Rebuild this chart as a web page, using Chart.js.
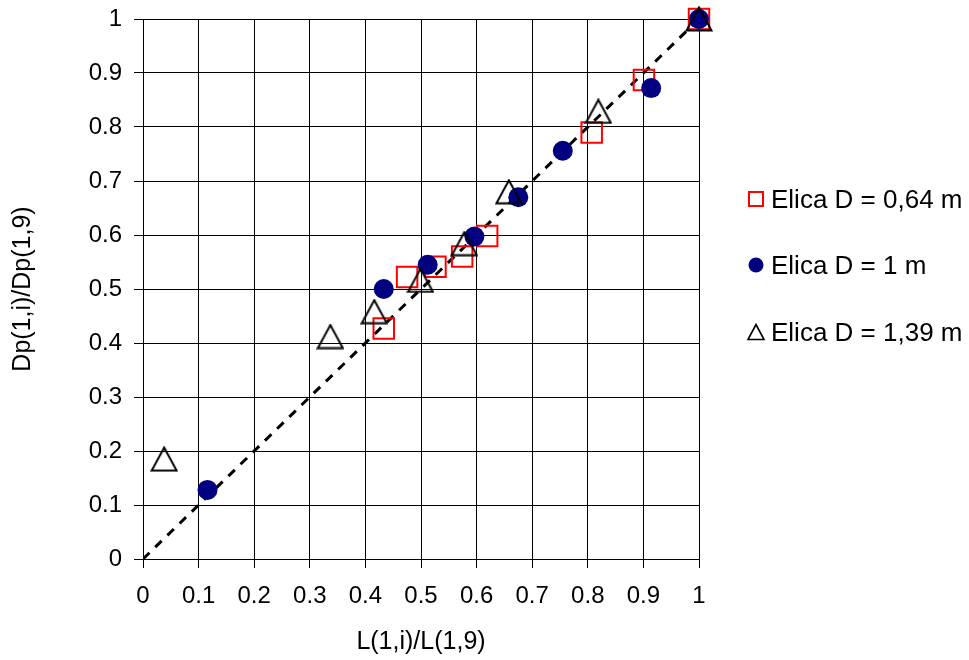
<!DOCTYPE html>
<html>
<head>
<meta charset="utf-8">
<script src="https://cdn.jsdelivr.net/npm/chart.js@4/dist/chart.umd.min.js"></script>
<style>
  html, body { margin: 0; padding: 0; background: #fff; }
  #wrap { position: relative; width: 969px; height: 660px; }
  #legend { position: absolute; left: 746px; top: 0; font-family: "Liberation Sans", Arial, sans-serif; font-size: 26px; color: #000; }
  .item { position: absolute; left: 0; height: 30px; display: flex; align-items: center; white-space: nowrap; }
  .item svg { width: 20px; height: 20px; margin-right: 5px; }
</style>
</head>
<body>
<div id="wrap">
  <canvas id="chart" width="969" height="660"></canvas>
  <div id="legend"></div>
</div>
<script>
// series: Elica D = 0,64 m (squares)
const xSmall = [0.433, 0.475, 0.526, 0.574, 0.619, 0.807, 0.901, 1];
const ySmall = [0.427, 0.522, 0.541, 0.560, 0.598, 0.790, 0.887, 1];
// series: Elica D = 1 m (circles)
const xMid = [0.116, 0.433, 0.512, 0.596, 0.675, 0.755, 0.914, 1];
const yMid = [0.128, 0.500, 0.545, 0.597, 0.670, 0.756, 0.872, 1];
// series: Elica D = 1,39 m (triangles)
const xBig = [0.038, 0.337, 0.416, 0.499, 0.578, 0.658, 0.819, 1];
const yBig = [0.185, 0.412, 0.458, 0.516, 0.584, 0.680, 0.829, 1];
// reference bisector
const lineX = [0, 1];
const lineY = [0, 1];

const seriesNames = ["Elica D = 0,64 m", "Elica D = 1 m", "Elica D = 1,39 m"];
const xTitle = "L(1,i)/L(1,9)";
const yTitle = "Dp(1,i)/Dp(1,9)";

function pts(xs, ys) {
  return xs.map((x, i) => ({ x: x, y: ys[i] }));
}

// excel style triangle, box centred on the point
function triangleMarker() {
  const c = document.createElement("canvas");
  c.width = 28; c.height = 26;
  const g = c.getContext("2d");
  g.strokeStyle = "#000";
  g.lineWidth = 2;
  g.beginPath();
  g.moveTo(14, 1.5);
  g.lineTo(26.5, 24.5);
  g.lineTo(1.5, 24.5);
  g.closePath();
  g.stroke();
  return c;
}

const font = "'Liberation Sans', Arial, sans-serif";
const tickLabel = (v) => String(Number(v.toFixed(1)));

new Chart(document.getElementById("chart"), {
  type: "scatter",
  data: {
    datasets: [
      {
        label: seriesNames[0],
        data: pts(xSmall, ySmall),
        pointStyle: "rect",
        pointRadius: 14.5,
        pointHoverRadius: 14.5,
        borderColor: "#ff0000",
        backgroundColor: "rgba(0,0,0,0)",
        pointBorderWidth: 2,
        clip: false,
        order: 3
      },
      {
        label: seriesNames[1],
        data: pts(xMid, yMid),
        pointStyle: "circle",
        pointRadius: 10,
        pointHoverRadius: 10,
        borderColor: "#000080",
        backgroundColor: "#000080",
        pointBorderWidth: 0,
        clip: false,
        order: 2
      },
      {
        label: seriesNames[2],
        data: pts(xBig, yBig),
        pointStyle: triangleMarker(),
        pointRadius: 13,
        borderColor: "#000",
        backgroundColor: "rgba(0,0,0,0)",
        clip: false,
        order: 1
      },
      {
        type: "line",
        label: "y = x",
        data: pts(lineX, lineY),
        borderColor: "#000",
        borderWidth: 3,
        borderDash: [9, 8],
        pointRadius: 0,
        fill: false,
        order: 4
      }
    ]
  },
  options: {
    responsive: false,
    animation: false,
    events: [],
    layout: { padding: { top: 19, right: 270, bottom: 0, left: 0 } },
    plugins: {
      legend: { display: false },
      tooltip: { enabled: false }
    },
    scales: {
      x: {
        type: "linear",
        min: 0,
        max: 1,
        afterFit: (s) => { s.height = 101; s.paddingLeft = 0; s.paddingRight = 0; },
        ticks: { stepSize: 0.1, color: "#000", padding: 14, callback: tickLabel, font: { family: font, size: 24 } },
        grid: { color: "#000", lineWidth: 1, tickLength: 9 },
        border: { color: "#000", width: 1 },
        title: { display: true, text: xTitle, color: "#000", font: { family: font, size: 25 }, padding: { top: 0, bottom: 3 } }
      },
      y: {
        type: "linear",
        min: 0,
        max: 1,
        afterFit: (s) => { s.width = 143; s.paddingTop = 0; s.paddingBottom = 0; },
        ticks: { stepSize: 0.1, color: "#000", padding: 12, callback: tickLabel, font: { family: font, size: 24 } },
        grid: { color: "#000", lineWidth: 1, tickLength: 9 },
        border: { color: "#000", width: 1 },
        title: { display: true, text: yTitle, color: "#000", font: { family: font, size: 25 }, padding: { top: 8, bottom: 0 } }
      }
    }
  }
});

// legend on the right
const legendMarkers = [
  '<svg viewBox="0 0 20 20"><rect x="3" y="3" width="14" height="14" fill="none" stroke="#ff0000" stroke-width="2"/></svg>',
  '<svg viewBox="0 0 20 20"><circle cx="10" cy="10" r="7.5" fill="#000080"/></svg>',
  '<svg viewBox="0 0 20 20"><path d="M10 2.5 L18 17.5 L2 17.5 Z" fill="none" stroke="#000" stroke-width="1.6"/></svg>'
];
const legendY = [199, 265, 332];
const legend = document.getElementById("legend");
seriesNames.forEach((name, i) => {
  const el = document.createElement("div");
  el.className = "item";
  el.style.top = (legendY[i] - 15) + "px";
  el.innerHTML = legendMarkers[i] + "<span>" + name + "</span>";
  legend.appendChild(el);
});
</script>
</body>
</html>
